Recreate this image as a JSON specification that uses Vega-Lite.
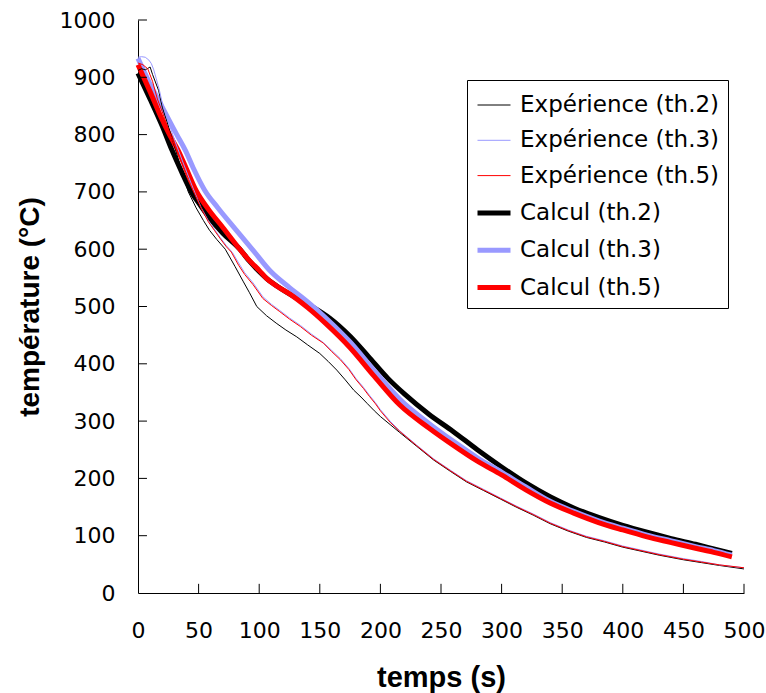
{
  "$schema": "https://vega.github.io/schema/vega-lite/v6.json",
  "autosize": {"type": "none"},
  "padding": {"left": 138, "top": 20, "right": 22, "bottom": 100},
  "width": 606,
  "height": 573,
  "background": "white",
  "config": {
    "view": {"stroke": null},
    "axis": {"grid": false, "domainColor": "#000000", "tickColor": "#000000", "labelColor": "#000000", "titleColor": "#000000"}
  },
  "datasets": {
    "calc": [
      {"s": "Calcul (th.2)", "t": 0, "T": 907}, {"s": "Calcul (th.2)", "t": 10, "T": 862}, {"s": "Calcul (th.2)", "t": 20, "T": 815}, {"s": "Calcul (th.2)", "t": 28, "T": 773}, {"s": "Calcul (th.2)", "t": 36, "T": 735}, {"s": "Calcul (th.2)", "t": 44, "T": 700}, {"s": "Calcul (th.2)", "t": 52, "T": 675}, {"s": "Calcul (th.2)", "t": 60, "T": 652}, {"s": "Calcul (th.2)", "t": 70, "T": 628}, {"s": "Calcul (th.2)", "t": 84, "T": 600}, {"s": "Calcul (th.2)", "t": 92, "T": 579}, {"s": "Calcul (th.2)", "t": 100, "T": 561}, {"s": "Calcul (th.2)", "t": 106, "T": 549}, {"s": "Calcul (th.2)", "t": 118, "T": 531}, {"s": "Calcul (th.2)", "t": 133, "T": 512}, {"s": "Calcul (th.2)", "t": 145, "T": 498}, {"s": "Calcul (th.2)", "t": 158, "T": 480}, {"s": "Calcul (th.2)", "t": 175, "T": 448}, {"s": "Calcul (th.2)", "t": 190, "T": 413}, {"s": "Calcul (th.2)", "t": 206, "T": 375}, {"s": "Calcul (th.2)", "t": 220, "T": 347}, {"s": "Calcul (th.2)", "t": 240, "T": 312}, {"s": "Calcul (th.2)", "t": 260, "T": 282}, {"s": "Calcul (th.2)", "t": 280, "T": 250}, {"s": "Calcul (th.2)", "t": 300, "T": 220}, {"s": "Calcul (th.2)", "t": 320, "T": 192}, {"s": "Calcul (th.2)", "t": 340, "T": 168}, {"s": "Calcul (th.2)", "t": 360, "T": 148}, {"s": "Calcul (th.2)", "t": 380, "T": 132}, {"s": "Calcul (th.2)", "t": 400, "T": 118}, {"s": "Calcul (th.2)", "t": 420, "T": 106}, {"s": "Calcul (th.2)", "t": 440, "T": 95}, {"s": "Calcul (th.2)", "t": 460, "T": 85}, {"s": "Calcul (th.2)", "t": 475, "T": 77}, {"s": "Calcul (th.2)", "t": 490, "T": 69},
      {"s": "Calcul (th.3)", "t": 0, "T": 933}, {"s": "Calcul (th.3)", "t": 10, "T": 888}, {"s": "Calcul (th.3)", "t": 20, "T": 848}, {"s": "Calcul (th.3)", "t": 32, "T": 800}, {"s": "Calcul (th.3)", "t": 39, "T": 773}, {"s": "Calcul (th.3)", "t": 46, "T": 740}, {"s": "Calcul (th.3)", "t": 55, "T": 703}, {"s": "Calcul (th.3)", "t": 66, "T": 672}, {"s": "Calcul (th.3)", "t": 80, "T": 636}, {"s": "Calcul (th.3)", "t": 95, "T": 598}, {"s": "Calcul (th.3)", "t": 110, "T": 560}, {"s": "Calcul (th.3)", "t": 125, "T": 533}, {"s": "Calcul (th.3)", "t": 140, "T": 508}, {"s": "Calcul (th.3)", "t": 155, "T": 480}, {"s": "Calcul (th.3)", "t": 175, "T": 438}, {"s": "Calcul (th.3)", "t": 195, "T": 388}, {"s": "Calcul (th.3)", "t": 216, "T": 338}, {"s": "Calcul (th.3)", "t": 240, "T": 296}, {"s": "Calcul (th.3)", "t": 260, "T": 265}, {"s": "Calcul (th.3)", "t": 280, "T": 236}, {"s": "Calcul (th.3)", "t": 300, "T": 211}, {"s": "Calcul (th.3)", "t": 320, "T": 185}, {"s": "Calcul (th.3)", "t": 340, "T": 160}, {"s": "Calcul (th.3)", "t": 360, "T": 142}, {"s": "Calcul (th.3)", "t": 380, "T": 126}, {"s": "Calcul (th.3)", "t": 400, "T": 113}, {"s": "Calcul (th.3)", "t": 420, "T": 101}, {"s": "Calcul (th.3)", "t": 440, "T": 91}, {"s": "Calcul (th.3)", "t": 460, "T": 81}, {"s": "Calcul (th.3)", "t": 475, "T": 74}, {"s": "Calcul (th.3)", "t": 490, "T": 66},
      {"s": "Calcul (th.5)", "t": 0, "T": 922}, {"s": "Calcul (th.5)", "t": 10, "T": 875}, {"s": "Calcul (th.5)", "t": 20, "T": 826}, {"s": "Calcul (th.5)", "t": 26, "T": 800}, {"s": "Calcul (th.5)", "t": 33, "T": 773}, {"s": "Calcul (th.5)", "t": 40, "T": 740}, {"s": "Calcul (th.5)", "t": 48, "T": 702}, {"s": "Calcul (th.5)", "t": 58, "T": 670}, {"s": "Calcul (th.5)", "t": 70, "T": 638}, {"s": "Calcul (th.5)", "t": 84, "T": 600}, {"s": "Calcul (th.5)", "t": 92, "T": 580}, {"s": "Calcul (th.5)", "t": 100, "T": 563}, {"s": "Calcul (th.5)", "t": 106, "T": 549}, {"s": "Calcul (th.5)", "t": 115, "T": 535}, {"s": "Calcul (th.5)", "t": 125, "T": 522}, {"s": "Calcul (th.5)", "t": 140, "T": 498}, {"s": "Calcul (th.5)", "t": 155, "T": 470}, {"s": "Calcul (th.5)", "t": 175, "T": 428}, {"s": "Calcul (th.5)", "t": 195, "T": 378}, {"s": "Calcul (th.5)", "t": 216, "T": 328}, {"s": "Calcul (th.5)", "t": 240, "T": 288}, {"s": "Calcul (th.5)", "t": 260, "T": 258}, {"s": "Calcul (th.5)", "t": 280, "T": 230}, {"s": "Calcul (th.5)", "t": 300, "T": 206}, {"s": "Calcul (th.5)", "t": 320, "T": 180}, {"s": "Calcul (th.5)", "t": 340, "T": 157}, {"s": "Calcul (th.5)", "t": 360, "T": 139}, {"s": "Calcul (th.5)", "t": 380, "T": 123}, {"s": "Calcul (th.5)", "t": 400, "T": 110}, {"s": "Calcul (th.5)", "t": 420, "T": 98}, {"s": "Calcul (th.5)", "t": 440, "T": 88}, {"s": "Calcul (th.5)", "t": 460, "T": 78}, {"s": "Calcul (th.5)", "t": 475, "T": 71}, {"s": "Calcul (th.5)", "t": 490, "T": 63}
    ],
    "exp": [
      {"s": "Expérience (th.2)", "t": 0, "T": 912}, {"s": "Expérience (th.2)", "t": 3, "T": 915}, {"s": "Expérience (th.2)", "t": 6, "T": 913}, {"s": "Expérience (th.2)", "t": 10, "T": 918}, {"s": "Expérience (th.2)", "t": 12, "T": 905}, {"s": "Expérience (th.2)", "t": 17, "T": 877}, {"s": "Expérience (th.2)", "t": 20, "T": 848}, {"s": "Expérience (th.2)", "t": 25, "T": 815}, {"s": "Expérience (th.2)", "t": 30, "T": 780}, {"s": "Expérience (th.2)", "t": 35, "T": 745}, {"s": "Expérience (th.2)", "t": 41.5, "T": 700}, {"s": "Expérience (th.2)", "t": 48, "T": 672}, {"s": "Expérience (th.2)", "t": 54, "T": 650}, {"s": "Expérience (th.2)", "t": 59, "T": 633}, {"s": "Expérience (th.2)", "t": 65, "T": 617}, {"s": "Expérience (th.2)", "t": 72, "T": 600}, {"s": "Expérience (th.2)", "t": 80, "T": 570}, {"s": "Expérience (th.2)", "t": 87, "T": 543}, {"s": "Expérience (th.2)", "t": 92, "T": 524}, {"s": "Expérience (th.2)", "t": 98, "T": 500}, {"s": "Expérience (th.2)", "t": 106, "T": 484}, {"s": "Expérience (th.2)", "t": 114, "T": 471}, {"s": "Expérience (th.2)", "t": 122, "T": 459}, {"s": "Expérience (th.2)", "t": 131, "T": 447}, {"s": "Expérience (th.2)", "t": 140, "T": 433}, {"s": "Expérience (th.2)", "t": 150, "T": 418}, {"s": "Expérience (th.2)", "t": 157, "T": 404}, {"s": "Expérience (th.2)", "t": 164, "T": 389}, {"s": "Expérience (th.2)", "t": 171, "T": 372}, {"s": "Expérience (th.2)", "t": 178, "T": 354}, {"s": "Expérience (th.2)", "t": 184, "T": 342}, {"s": "Expérience (th.2)", "t": 189, "T": 331}, {"s": "Expérience (th.2)", "t": 195, "T": 318}, {"s": "Expérience (th.2)", "t": 200, "T": 308}, {"s": "Expérience (th.2)", "t": 208, "T": 294}, {"s": "Expérience (th.2)", "t": 216, "T": 280}, {"s": "Expérience (th.2)", "t": 230, "T": 256}, {"s": "Expérience (th.2)", "t": 244, "T": 232}, {"s": "Expérience (th.2)", "t": 258, "T": 212}, {"s": "Expérience (th.2)", "t": 271, "T": 194}, {"s": "Expérience (th.2)", "t": 285, "T": 179}, {"s": "Expérience (th.2)", "t": 299, "T": 164}, {"s": "Expérience (th.2)", "t": 312, "T": 150}, {"s": "Expérience (th.2)", "t": 326, "T": 136}, {"s": "Expérience (th.2)", "t": 340, "T": 121}, {"s": "Expérience (th.2)", "t": 355, "T": 108}, {"s": "Expérience (th.2)", "t": 370, "T": 97}, {"s": "Expérience (th.2)", "t": 385, "T": 89}, {"s": "Expérience (th.2)", "t": 400, "T": 80}, {"s": "Expérience (th.2)", "t": 415, "T": 73}, {"s": "Expérience (th.2)", "t": 430, "T": 66}, {"s": "Expérience (th.2)", "t": 450, "T": 58}, {"s": "Expérience (th.2)", "t": 465, "T": 53}, {"s": "Expérience (th.2)", "t": 480, "T": 48}, {"s": "Expérience (th.2)", "t": 500, "T": 42},
      {"s": "Expérience (th.3)", "t": 0, "T": 935}, {"s": "Expérience (th.3)", "t": 3, "T": 936}, {"s": "Expérience (th.3)", "t": 6, "T": 935}, {"s": "Expérience (th.3)", "t": 9, "T": 930}, {"s": "Expérience (th.3)", "t": 11, "T": 924}, {"s": "Expérience (th.3)", "t": 13, "T": 913}, {"s": "Expérience (th.3)", "t": 15, "T": 898}, {"s": "Expérience (th.3)", "t": 17.6, "T": 878}, {"s": "Expérience (th.3)", "t": 19.5, "T": 860}, {"s": "Expérience (th.3)", "t": 23, "T": 835}, {"s": "Expérience (th.3)", "t": 27, "T": 810}, {"s": "Expérience (th.3)", "t": 32, "T": 780}, {"s": "Expérience (th.3)", "t": 37, "T": 752}, {"s": "Expérience (th.3)", "t": 42, "T": 725}, {"s": "Expérience (th.3)", "t": 47, "T": 698}, {"s": "Expérience (th.3)", "t": 52, "T": 673}, {"s": "Expérience (th.3)", "t": 58, "T": 650}, {"s": "Expérience (th.3)", "t": 63, "T": 635}, {"s": "Expérience (th.3)", "t": 68, "T": 620}, {"s": "Expérience (th.3)", "t": 73, "T": 606}, {"s": "Expérience (th.3)", "t": 78, "T": 594}, {"s": "Expérience (th.3)", "t": 83, "T": 576}, {"s": "Expérience (th.3)", "t": 88, "T": 559}, {"s": "Expérience (th.3)", "t": 95, "T": 541}, {"s": "Expérience (th.3)", "t": 103, "T": 517}, {"s": "Expérience (th.3)", "t": 110, "T": 504}, {"s": "Expérience (th.3)", "t": 117, "T": 493}, {"s": "Expérience (th.3)", "t": 125, "T": 480}, {"s": "Expérience (th.3)", "t": 134, "T": 467}, {"s": "Expérience (th.3)", "t": 143, "T": 452}, {"s": "Expérience (th.3)", "t": 153, "T": 437}, {"s": "Expérience (th.3)", "t": 160, "T": 423}, {"s": "Expérience (th.3)", "t": 167, "T": 409}, {"s": "Expérience (th.3)", "t": 174, "T": 392}, {"s": "Expérience (th.3)", "t": 180, "T": 374}, {"s": "Expérience (th.3)", "t": 186, "T": 359}, {"s": "Expérience (th.3)", "t": 191, "T": 345}, {"s": "Expérience (th.3)", "t": 196, "T": 332}, {"s": "Expérience (th.3)", "t": 200, "T": 320}, {"s": "Expérience (th.3)", "t": 208, "T": 300}, {"s": "Expérience (th.3)", "t": 216, "T": 283}, {"s": "Expérience (th.3)", "t": 230, "T": 258}, {"s": "Expérience (th.3)", "t": 244, "T": 234}, {"s": "Expérience (th.3)", "t": 258, "T": 214}, {"s": "Expérience (th.3)", "t": 271, "T": 196}, {"s": "Expérience (th.3)", "t": 285, "T": 181}, {"s": "Expérience (th.3)", "t": 299, "T": 166}, {"s": "Expérience (th.3)", "t": 312, "T": 152}, {"s": "Expérience (th.3)", "t": 326, "T": 138}, {"s": "Expérience (th.3)", "t": 340, "T": 123}, {"s": "Expérience (th.3)", "t": 355, "T": 110}, {"s": "Expérience (th.3)", "t": 370, "T": 99}, {"s": "Expérience (th.3)", "t": 385, "T": 91}, {"s": "Expérience (th.3)", "t": 400, "T": 82}, {"s": "Expérience (th.3)", "t": 415, "T": 75}, {"s": "Expérience (th.3)", "t": 430, "T": 68}, {"s": "Expérience (th.3)", "t": 450, "T": 60}, {"s": "Expérience (th.3)", "t": 465, "T": 55}, {"s": "Expérience (th.3)", "t": 480, "T": 49}, {"s": "Expérience (th.3)", "t": 500, "T": 44},
      {"s": "Expérience (th.5)", "t": 0, "T": 925}, {"s": "Expérience (th.5)", "t": 4, "T": 922}, {"s": "Expérience (th.5)", "t": 8, "T": 915}, {"s": "Expérience (th.5)", "t": 12, "T": 893}, {"s": "Expérience (th.5)", "t": 16, "T": 862}, {"s": "Expérience (th.5)", "t": 20, "T": 840}, {"s": "Expérience (th.5)", "t": 25, "T": 810}, {"s": "Expérience (th.5)", "t": 30, "T": 782}, {"s": "Expérience (th.5)", "t": 36, "T": 750}, {"s": "Expérience (th.5)", "t": 41, "T": 722}, {"s": "Expérience (th.5)", "t": 47, "T": 695}, {"s": "Expérience (th.5)", "t": 52, "T": 672}, {"s": "Expérience (th.5)", "t": 58, "T": 648}, {"s": "Expérience (th.5)", "t": 63, "T": 633}, {"s": "Expérience (th.5)", "t": 68, "T": 618}, {"s": "Expérience (th.5)", "t": 73, "T": 604}, {"s": "Expérience (th.5)", "t": 77, "T": 595}, {"s": "Expérience (th.5)", "t": 83, "T": 572}, {"s": "Expérience (th.5)", "t": 88, "T": 556}, {"s": "Expérience (th.5)", "t": 95, "T": 538}, {"s": "Expérience (th.5)", "t": 103, "T": 514}, {"s": "Expérience (th.5)", "t": 110, "T": 502}, {"s": "Expérience (th.5)", "t": 117, "T": 491}, {"s": "Expérience (th.5)", "t": 125, "T": 478}, {"s": "Expérience (th.5)", "t": 134, "T": 465}, {"s": "Expérience (th.5)", "t": 143, "T": 450}, {"s": "Expérience (th.5)", "t": 153, "T": 436}, {"s": "Expérience (th.5)", "t": 160, "T": 421}, {"s": "Expérience (th.5)", "t": 167, "T": 407}, {"s": "Expérience (th.5)", "t": 174, "T": 390}, {"s": "Expérience (th.5)", "t": 180, "T": 372}, {"s": "Expérience (th.5)", "t": 186, "T": 357}, {"s": "Expérience (th.5)", "t": 191, "T": 343}, {"s": "Expérience (th.5)", "t": 196, "T": 330}, {"s": "Expérience (th.5)", "t": 200, "T": 318}, {"s": "Expérience (th.5)", "t": 208, "T": 298}, {"s": "Expérience (th.5)", "t": 216, "T": 282}, {"s": "Expérience (th.5)", "t": 230, "T": 257}, {"s": "Expérience (th.5)", "t": 244, "T": 233}, {"s": "Expérience (th.5)", "t": 258, "T": 213}, {"s": "Expérience (th.5)", "t": 271, "T": 195}, {"s": "Expérience (th.5)", "t": 285, "T": 180}, {"s": "Expérience (th.5)", "t": 299, "T": 165}, {"s": "Expérience (th.5)", "t": 312, "T": 151}, {"s": "Expérience (th.5)", "t": 326, "T": 137}, {"s": "Expérience (th.5)", "t": 340, "T": 122}, {"s": "Expérience (th.5)", "t": 355, "T": 109}, {"s": "Expérience (th.5)", "t": 370, "T": 98}, {"s": "Expérience (th.5)", "t": 385, "T": 90}, {"s": "Expérience (th.5)", "t": 400, "T": 81}, {"s": "Expérience (th.5)", "t": 415, "T": 74}, {"s": "Expérience (th.5)", "t": 430, "T": 67}, {"s": "Expérience (th.5)", "t": 450, "T": 59}, {"s": "Expérience (th.5)", "t": 465, "T": 54}, {"s": "Expérience (th.5)", "t": 480, "T": 49}, {"s": "Expérience (th.5)", "t": 500, "T": 44}
    ],
    "xticks": [{"t": 50}, {"t": 100}, {"t": 150}, {"t": 200}, {"t": 250}, {"t": 300}, {"t": 350}, {"t": 400}, {"t": 450}, {"t": 500}],
    "yticks": [{"T": 100}, {"T": 200}, {"T": 300}, {"T": 400}, {"T": 500}, {"T": 600}, {"T": 700}, {"T": 800}, {"T": 900}, {"T": 1000}]
  },
  "layer": [
    {
      "data": {"name": "calc"},
      "mark": {"type": "line", "interpolate": "monotone"},
      "encoding": {
        "x": {
          "field": "t", "type": "quantitative",
          "scale": {"domain": [0, 500], "nice": false, "zero": false},
          "axis": {
            "title": "temps (s)", "values": [0, 50, 100, 150, 200, 250, 300, 350, 400, 450, 500], "format": "d",
            "ticks": false,
            "labelFont": "DejaVu Sans", "labelFontSize": 22, "labelPadding": 27,
            "labelFlush": false, "labelOverlap": false,
            "titleFont": "Liberation Sans", "titleFontSize": 29, "titleFontWeight": "bold", "titlePadding": 22
          }
        },
        "y": {
          "field": "T", "type": "quantitative",
          "scale": {"domain": [0, 1000], "nice": false, "zero": false},
          "axis": {
            "title": "température (°C)", "values": [0, 100, 200, 300, 400, 500, 600, 700, 800, 900, 1000], "format": "d",
            "ticks": false,
            "labelFont": "DejaVu Sans", "labelFontSize": 22, "labelPadding": 23,
            "labelFlush": false, "labelOverlap": false,
            "titleFont": "Liberation Sans", "titleFontSize": 28, "titleFontWeight": "bold", "titlePadding": 15
          }
        },
        "color": {
          "field": "s", "type": "nominal",
          "scale": {
            "domain": ["Expérience (th.2)", "Expérience (th.3)", "Expérience (th.5)", "Calcul (th.2)", "Calcul (th.3)", "Calcul (th.5)"],
            "range": ["#000000", "#9999FF", "#FF0000", "#000000", "#9999FF", "#FF0000"]
          },
          "legend": {
            "title": null, "orient": "none", "legendX": 329, "legendY": 60,
            "symbolType": "stroke", "symbolSize": 1089, "labelFont": "DejaVu Sans", "labelFontSize": 23, "labelLimit": 400,
            "labelOffset": 7, "rowPadding": 6.3, "padding": 8,
            "strokeColor": "#000000", "fillColor": "#FFFFFF", "cornerRadius": 0
          }
        },
        "strokeWidth": {
          "field": "s", "type": "nominal",
          "scale": {
            "type": "ordinal",
            "domain": ["Expérience (th.2)", "Expérience (th.3)", "Expérience (th.5)", "Calcul (th.2)", "Calcul (th.3)", "Calcul (th.5)"],
            "range": [1, 1, 1, 5, 5, 5]
          },
          "legend": {
            "title": null, "orient": "none", "legendX": 329, "legendY": 60,
            "symbolType": "stroke", "symbolSize": 1089, "labelFont": "DejaVu Sans", "labelFontSize": 23, "labelLimit": 400,
            "labelOffset": 7, "rowPadding": 6.3, "padding": 8,
            "strokeColor": "#000000", "fillColor": "#FFFFFF", "cornerRadius": 0
          }
        }
      }
    },
    {
      "data": {"name": "exp"},
      "mark": {"type": "line"},
      "encoding": {
        "x": {"field": "t", "type": "quantitative"},
        "y": {"field": "T", "type": "quantitative"},
        "color": {"field": "s", "type": "nominal"},
        "strokeWidth": {"field": "s", "type": "nominal", "scale": {"type": "ordinal"}}
      }
    },
    {
      "data": {"name": "xticks"},
      "mark": {"type": "rule", "color": "#000000", "strokeWidth": 1},
      "encoding": {
        "x": {"field": "t", "type": "quantitative"},
        "y": {"datum": 0, "type": "quantitative"},
        "y2": {"datum": 16}
      }
    },
    {
      "data": {"name": "yticks"},
      "mark": {"type": "rule", "color": "#000000", "strokeWidth": 1},
      "encoding": {
        "y": {"field": "T", "type": "quantitative"},
        "x": {"datum": 0, "type": "quantitative"},
        "x2": {"datum": 7.4}
      }
    }
  ]
}
